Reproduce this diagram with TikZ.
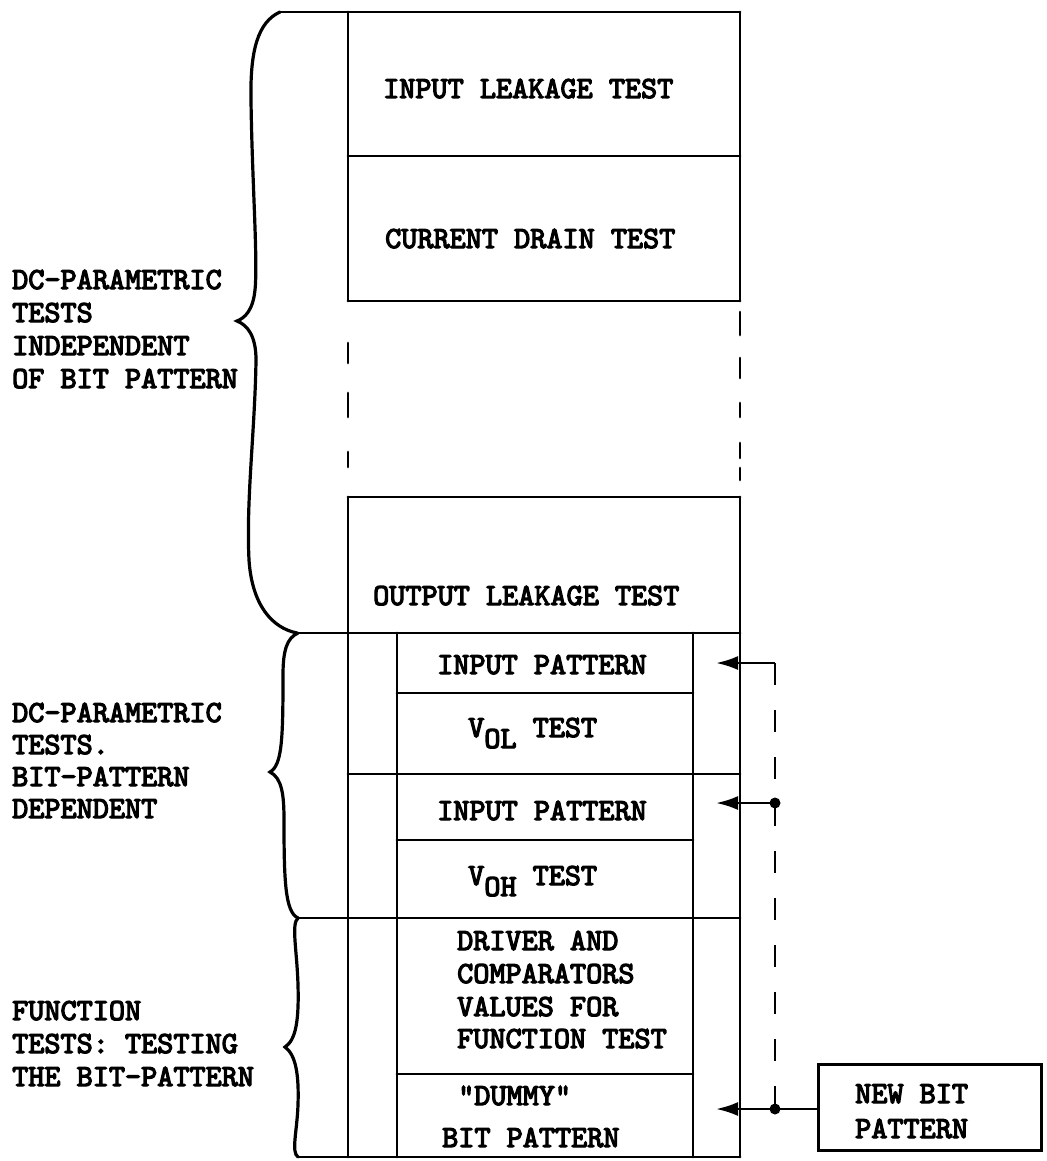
\documentclass[tikz,border=0pt]{standalone}
\usepackage{fontspec}
\newfontfamily\tw{lmmono10-regular.otf}[FakeBold=4]
\usetikzlibrary{arrows.meta}
\begin{document}
\begin{tikzpicture}[x=1pt,y=-1pt,
  ln/.style={line width=2.8pt, line cap=round},
  brace/.style={line width=3.2pt, line cap=round},
  lbl/.style={anchor=base west, inner sep=0pt, font=\tw\fontsize{30.7}{36}\selectfont},
  arr/.style={line width=2.6pt, -{Latex[length=22pt,width=14pt]}},
  jdot/.style={circle, fill, inner sep=0pt, minimum size=11pt}]
\useasboundingbox (0,0) rectangle (1046,1161);
% ---- upper part
\draw[ln] (280,12) -- (740,12);
\draw[ln] (348,12) -- (348,301);
\draw[ln] (740,12) -- (740,301);
\draw[ln] (348,156) -- (740,156);
\draw[ln] (348,301) -- (740,301);
\foreach \a/\b in {343/363,393/417,452/467} \draw[ln] (348,\a) -- (348,\b);
\foreach \a/\b in {312/335,358/378,403/417,443/458,468/480} \draw[ln] (740,\a) -- (740,\b);
% ---- lower part
\draw[ln] (348,497) -- (740,497);
\draw[ln] (348,497) -- (348,1157);
\draw[ln] (740,497) -- (740,1157);
\draw[ln] (297,633) -- (740,633);
\draw[ln] (397,633) -- (397,1157);
\draw[ln] (693,633) -- (693,1157);
\draw[ln] (397,693) -- (693,693);
\draw[ln] (348,774) -- (740,774);
\draw[ln] (397,840) -- (693,840);
\draw[ln] (298,918) -- (740,918);
\draw[ln] (397,1074) -- (693,1074);
\draw[ln] (298,1157) -- (740,1157);
% ---- braces
\draw[brace] (280,12) .. controls (258,22) and (250,50) .. (251,100)
  .. controls (252,180) and (258,260) .. (255,290)
  .. controls (253,310) and (245,318) .. (237,321)
  .. controls (247,325) and (256,335) .. (256,360)
  .. controls (255,430) and (246,500) .. (249,560)
  .. controls (252,605) and (272,628) .. (297,633);
\draw[brace] (298,633) .. controls (287,638) and (283,650) .. (283,675)
  .. controls (283,740) and (282,765) .. (270,772)
  .. controls (282,778) and (284,795) .. (284,820)
  .. controls (284,880) and (285,912) .. (298,918);
\draw[brace] (298,918) .. controls (291,924) and (297,950) .. (298,985)
  .. controls (299,1020) and (296,1040) .. (285,1047)
  .. controls (296,1055) and (299,1075) .. (298,1105)
  .. controls (297,1132) and (291,1152) .. (298,1157);
% ---- texts in the column
\node[lbl] (t1) at (383,98) {INPUT LEAKAGE TEST};
\node[lbl] (t2) at (385,248) {CURRENT DRAIN TEST};
\node[lbl] (t3) at (373,605) {OUTPUT LEAKAGE TEST};
\node[lbl] (t4) at (437,674) {INPUT PATTERN};
\node[lbl] (t5) at (468,737) {V\raisebox{-11pt}{OL} TEST};
\node[lbl] (t6) at (437,820) {INPUT PATTERN};
\node[lbl] (t7) at (468,885) {V\raisebox{-11pt}{OH} TEST};
\node[lbl] (t8a) at (457,950) {DRIVER AND};
\node[lbl] (t8b) at (457,983) {COMPARATORS};
\node[lbl] (t8c) at (457,1016) {VALUES FOR};
\node[lbl] (t8d) at (457,1048) {FUNCTION TEST};
\node[lbl] (t9a) at (458,1105) {"DUMMY"};
\node[lbl] (t9b) at (442,1147) {BIT PATTERN};
% ---- left labels
\node[lbl] (l1a) at (12,289) {DC-PARAMETRIC};
\node[lbl] (l1b) at (12,322) {TESTS};
\node[lbl] (l1c) at (12,355) {INDEPENDENT};
\node[lbl] (l1d) at (12,388) {OF BIT PATTERN};
\node[lbl] (l2a) at (12,722) {DC-PARAMETRIC};
\node[lbl] (l2b) at (12,754) {TESTS.};
\node[lbl] (l2c) at (12,786) {BIT-PATTERN};
\node[lbl] (l2d) at (12,818) {DEPENDENT};
\node[lbl] (l3a) at (12,1020) {FUNCTION};
\node[lbl] (l3b) at (12,1053) {TESTS: TESTING};
\node[lbl] (l3c) at (12,1086) {THE BIT-PATTERN};
% ---- new bit pattern box
\node[draw, line width=2.8pt, minimum width=223pt, minimum height=86pt, anchor=north west, inner sep=0pt] (nbp) at (817,1063) {};
\node[lbl] (nb1) at (855,1103) {NEW BIT};
\node[lbl] (nb2) at (855,1138) {PATTERN};
% ---- feed lines
\coordinate (c1) at (775,663);
\coordinate (j2) at (775,803);
\coordinate (j3) at (775,1109);
\coordinate (a1) at (716,663);
\coordinate (a2) at (716,803);
\coordinate (a3) at (716,1109);
\draw[line width=2.8pt, dash pattern=on 22pt off 25pt] (c1) -- (j3);
\draw[arr] (c1) -- (a1);
\draw[arr] (j2) -- (a2);
\draw[arr] (nbp.west |- j3) -- (a3);
\node[jdot] (d2) at (j2) {};
\node[jdot] (d3) at (j3) {};
\end{tikzpicture}
\end{document}
